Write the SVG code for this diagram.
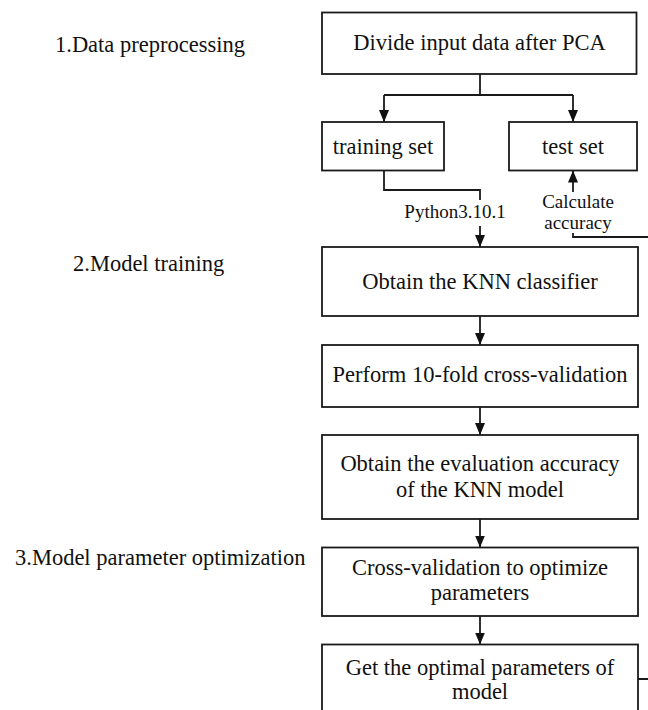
<svg xmlns="http://www.w3.org/2000/svg" width="648" height="710" viewBox="0 0 648 710">
  <style>
    .box { fill: #ffffff; stroke: #1a1a1a; stroke-width: 1.8; }
    .t { font-family: "Liberation Serif", "Times New Roman", serif; font-size: 22.5px; fill: #111111; text-anchor: middle; }
    .stage { font-family: "Liberation Serif", "Times New Roman", serif; font-size: 22.5px; fill: #111111; }
    .lbl { font-family: "Liberation Serif", "Times New Roman", serif; font-size: 19px; fill: #111111; text-anchor: middle; }
    .wire { fill: none; stroke: #1a1a1a; stroke-width: 1.8; }
    .arrow { fill: none; stroke: #1a1a1a; stroke-width: 1.8; marker-end: url(#head); }
  </style>
  <defs>
    <marker id="head" viewBox="0 0 12 10" markerWidth="12" markerHeight="10" refX="12" refY="5" orient="auto" markerUnits="userSpaceOnUse">
      <path d="M0,0 L12,5 L0,10 Z" fill="#111111"/>
    </marker>
  </defs>

  <rect width="648" height="710" fill="#ffffff"/>

  <!-- stage captions -->
  <g id="stages">
    <text class="stage" x="55" y="51.5">1.Data preprocessing</text>
    <text class="stage" x="73" y="270.5">2.Model training</text>
    <text class="stage" x="15" y="565">3.Model parameter optimization</text>
  </g>

  <!-- connectors -->
  <g id="connectors">
    <path class="wire" d="M480,74 V95 M384,95 H573"/>
    <path class="arrow" d="M384,95 V122"/>
    <path class="arrow" d="M573,95 V122"/>
    <path class="wire" d="M384,170.5 V190 H480 V200"/>
    <path class="arrow" d="M480,226 V247"/>
    <text class="lbl" x="455" y="218">Python3.10.1</text>
    <path class="arrow" d="M573,192 V170.5"/>
    <text class="lbl" x="578" y="208">Calculate</text>
    <text class="lbl" x="578" y="229">accuracy</text>
    <path class="wire" d="M638,679 H660 V237 H573 V233"/>
    <path class="arrow" d="M480,316 V345"/>
    <path class="arrow" d="M480,407 V435"/>
    <path class="arrow" d="M480,519 V547.5"/>
    <path class="arrow" d="M480,616 V644.5"/>
  </g>

  <g id="divide">
    <rect class="box" x="322" y="12.5" width="314.5" height="61.5"/>
    <text class="t" x="479.5" y="50">Divide input data after PCA</text>
  </g>

  <g id="training-set">
    <rect class="box" x="322" y="122" width="122" height="48.5"/>
    <text class="t" x="383" y="154">training set</text>
  </g>

  <g id="test-set">
    <rect class="box" x="509" y="122" width="128" height="48.5"/>
    <text class="t" x="573" y="154">test set</text>
  </g>

  <g id="knn-classifier">
    <rect class="box" x="322" y="247" width="316" height="69"/>
    <text class="t" x="480" y="289">Obtain the KNN classifier</text>
  </g>

  <g id="cross-validation">
    <rect class="box" x="322" y="345" width="316" height="62"/>
    <text class="t" x="480" y="381.5">Perform 10-fold cross-validation</text>
  </g>

  <g id="evaluation">
    <rect class="box" x="322" y="435" width="316" height="84"/>
    <text class="t" x="480" y="470.5">Obtain the evaluation accuracy</text>
    <text class="t" x="480" y="496.5">of the KNN model</text>
  </g>

  <g id="optimize">
    <rect class="box" x="322" y="547.5" width="316" height="68.5"/>
    <text class="t" x="480" y="575">Cross-validation to optimize</text>
    <text class="t" x="480" y="600">parameters</text>
  </g>

  <g id="optimal-params">
    <rect class="box" x="322" y="644.5" width="316" height="90"/>
    <text class="t" x="480" y="675">Get the optimal parameters of</text>
    <text class="t" x="480" y="699">model</text>
  </g>
</svg>
